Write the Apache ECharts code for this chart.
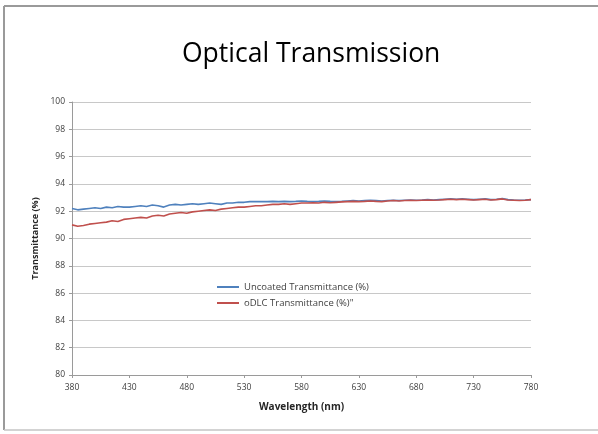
<!DOCTYPE html>
<html>
<head>
<meta charset="utf-8">
<script src="https://cdn.jsdelivr.net/npm/echarts@6/dist/echarts.min.js"></script>
<style>
html,body{margin:0;padding:0;background:#fff;overflow:hidden;}
#chart{width:598px;height:434px;}
</style>
</head>
<body>
<div id="chart"></div>
<script>
const wavelengths = [380,385,390,395,400,405,410,415,420,425,430,435,440,445,450,455,460,465,470,475,480,485,490,495,500,505,510,515,520,525,530,535,540,545,550,555,560,565,570,575,580,585,590,595,600,605,610,615,620,625,630,635,640,645,650,655,660,665,670,675,680,685,690,695,700,705,710,715,720,725,730,735,740,745,750,755,760,765,770,775,780];
const uncoated = [92.2,92.1,92.15,92.2,92.25,92.2,92.3,92.25,92.35,92.3,92.3,92.35,92.4,92.35,92.45,92.4,92.3,92.45,92.5,92.45,92.5,92.55,92.5,92.55,92.6,92.55,92.5,92.6,92.6,92.65,92.65,92.7,92.7,92.7,92.7,92.72,92.7,92.72,92.7,92.72,92.75,92.72,92.7,92.72,92.75,92.72,92.7,92.72,92.75,92.78,92.75,92.78,92.8,92.78,92.75,92.78,92.8,92.78,92.8,92.82,92.8,92.82,92.85,92.82,92.85,92.88,92.9,92.88,92.9,92.88,92.85,92.88,92.9,92.85,92.88,92.92,92.85,92.82,92.8,92.82,92.85];
const odlc = [91.0,90.9,90.95,91.05,91.1,91.15,91.2,91.3,91.25,91.4,91.45,91.5,91.55,91.5,91.65,91.7,91.65,91.8,91.85,91.9,91.85,91.95,92.0,92.05,92.1,92.05,92.15,92.2,92.25,92.3,92.3,92.35,92.4,92.4,92.45,92.5,92.5,92.55,92.5,92.55,92.6,92.6,92.62,92.6,92.65,92.62,92.65,92.68,92.7,92.72,92.7,92.72,92.75,92.72,92.7,92.75,92.78,92.75,92.78,92.8,92.78,92.8,92.82,92.8,92.82,92.85,92.88,92.85,92.88,92.85,92.82,92.85,92.88,92.82,92.85,92.9,92.82,92.8,92.78,92.8,92.85];
const seriesNames = ['Uncoated Transmittance (%)', 'oDLC Transmittance (%)"'];
const yTicks = {min: 80, max: 100, interval: 2};

const chart = echarts.init(document.getElementById('chart'));
const font = '"Open Sans", "Liberation Sans", sans-serif';
const borderStyle = {stroke: '#9a9a9a', lineWidth: 2};
chart.setOption({
  backgroundColor: '#ffffff',
  animation: false,
  title: {
    text: 'Optical Transmission',
    left: 177, top: 36,
    textStyle: {fontFamily: font, fontSize: 26.5, fontWeight: 'normal', color: '#000'}
  },
  graphic: [
    {type: 'line', silent: true, shape: {x1: 4, y1: 6, x2: 598, y2: 6}, style: borderStyle},
    {type: 'line', silent: true, shape: {x1: 4, y1: 6, x2: 4, y2: 430}, style: borderStyle},
    {type: 'line', silent: true, shape: {x1: 4, y1: 430, x2: 598, y2: 430}, style: {stroke: '#c4c4c4', lineWidth: 1.5}}
  ],
  legend: {
    orient: 'vertical',
    left: 212, top: 277,
    itemWidth: 22, itemHeight: 2, itemGap: 6,
    icon: 'rect',
    textStyle: {fontFamily: font, fontSize: 9.5, color: '#404040'},
    data: seriesNames
  },
  grid: {left: 72, right: 67, top: 102, bottom: 59},
  xAxis: {
    type: 'category',
    data: wavelengths,
    boundaryGap: false,
    name: 'Wavelength (nm)',
    nameLocation: 'middle',
    nameGap: 27,
    nameTextStyle: {fontFamily: font, fontSize: 10, fontWeight: 'bold', color: '#262626'},
    axisLine: {lineStyle: {color: '#9a9a9a'}},
    axisTick: {show: true, interval: 9, length: 3, lineStyle: {color: '#9a9a9a'}},
    axisLabel: {interval: 9, margin: 8, fontFamily: font, fontSize: 8.5, color: '#404040'},
    splitLine: {show: false}
  },
  yAxis: {
    type: 'value',
    min: yTicks.min, max: yTicks.max, interval: yTicks.interval,
    name: 'Transmittance (%)',
    nameLocation: 'middle',
    nameGap: 32,
    nameTextStyle: {fontFamily: font, fontSize: 9, fontWeight: 'bold', color: '#262626'},
    axisLine: {show: true, lineStyle: {color: '#9a9a9a'}},
    axisTick: {show: true, length: 3, lineStyle: {color: '#9a9a9a'}},
    axisLabel: {margin: 7, fontFamily: font, fontSize: 8.5, color: '#404040'},
    splitLine: {lineStyle: {color: '#c8c8c8', width: 1}}
  },
  series: [
    {name: seriesNames[0], type: 'line', data: uncoated, symbol: 'none', smooth: false,
     lineStyle: {color: '#4F81BD', width: 1.6}, itemStyle: {color: '#4F81BD'}},
    {name: seriesNames[1], type: 'line', data: odlc, symbol: 'none', smooth: false,
     lineStyle: {color: '#C0504D', width: 1.6}, itemStyle: {color: '#C0504D'}}
  ]
});
</script>
</body>
</html>
